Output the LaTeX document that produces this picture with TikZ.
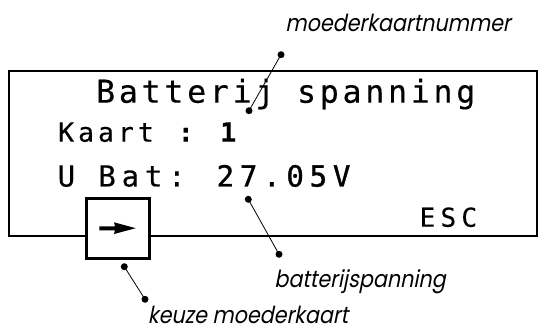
\documentclass[tikz,border=0pt]{standalone}
\usepackage{fontspec}
\newfontfamily\lcdfont[FakeBold=0.3]{DejaVu Sans Mono}
\newfontfamily\lblfont[FakeSlant=0.2,FakeStretch=0.88]{Poppins}
\begin{document}
\begin{tikzpicture}[x=1pt,y=-1pt,
  lcd/.style={anchor=base west, inner sep=0pt},
  lbl/.style={anchor=base, inner sep=0pt, font=\lblfont\fontsize{23.5}{28}\selectfont},
  dotc/.style={circle, fill=black, inner sep=0pt, minimum size=7pt},
  lead/.style={line width=0.8pt},
  frame/.style={line width=2pt},
  btn/.style={line width=3pt, fill=white}]
\useasboundingbox (0,0) rectangle (538,331);
% main display frame
\draw[frame] (9,71) rectangle (536.5,235.5);
% LCD text lines
\node[lcd, font={\lcdfont\fontsize{31.5}{36}\selectfont\addfontfeature{LetterSpace=12}}] (l1) at (96,102.7) {Batterij spanning};
\node[lcd, font={\lcdfont\fontsize{26.5}{30}\selectfont\addfontfeature{LetterSpace=15}}] (l2) at (58,141.7) {Kaart\textbf{ : 1}};
\node[lcd, font={\lcdfont\fontsize{29}{34}\selectfont\addfontfeature{LetterSpace=20}}] (l3) at (57.5,186.5) {U Bat: \addfontfeature{FakeBold=1.2}27.05V};
\node[lcd, font={\lcdfont\fontsize{26}{30}\selectfont\addfontfeature{LetterSpace=20}}] (l4) at (419.5,226.7) {ESC};
% button
\draw[btn] (86.7,198.3) rectangle (149,258.3);
\fill (99.3,226.5) -- (115,226.5) -- (114,222.3) -- (135.7,228.2) -- (114,234) -- (115,230.3) -- (99.3,230.3) -- cycle;
% labels
\node[lbl] (t1) at (398,32) {moederkaartnummer};
\node[lbl] (t2) at (360,287) {batterijspanning};
\node[lbl] (t3) at (248,323) {keuze moederkaart};
% leader dots
\node[dotc] (a1) at (281,54.7) {};
\node[dotc] (a2) at (249,110.7) {};
\node[dotc] (b1) at (248.3,199.3) {};
\node[dotc] (b2) at (279,254.3) {};
\node[dotc] (c1) at (124.3,266.7) {};
\node[dotc] (c2) at (145,299.3) {};
\draw[lead] (a1.center) -- (a2.center);
\draw[lead] (b1.center) -- (b2.center);
\draw[lead] (c1.center) -- (c2.center);
\end{tikzpicture}
\end{document}
